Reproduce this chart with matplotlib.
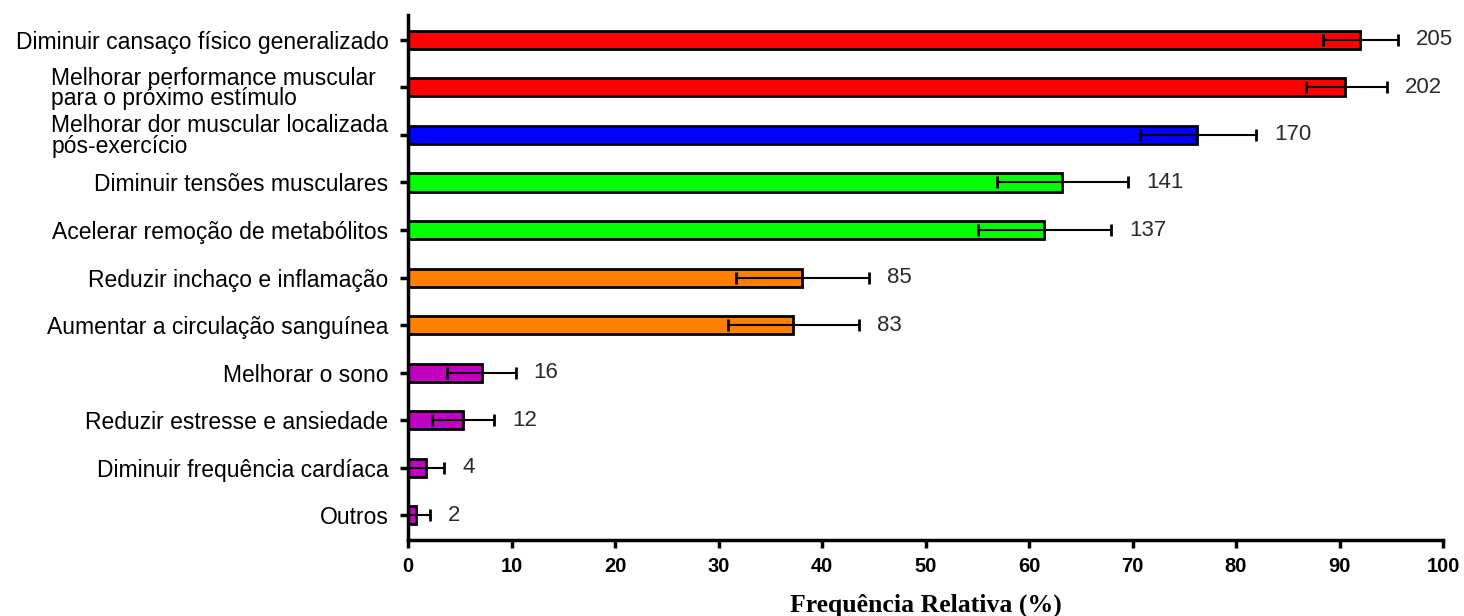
import matplotlib.pyplot as plt
import numpy as np

# dados
categorias = [
    "Diminuir cansaço físico generalizado",
    "Melhorar performance muscular  \npara o próximo estímulo",
    "Melhorar dor muscular localizada\npós-exercício",
    "Diminuir tensões musculares",
    "Acelerar remoção de metabólitos",
    "Reduzir inchaço e inflamação",
    "Aumentar a circulação sanguínea",
    "Melhorar o sono",
    "Reduzir estresse e ansiedade",
    "Diminuir frequência cardíaca",
    "Outros",
]
freq = [92.0, 90.5, 76.2, 63.2, 61.4, 38.1, 37.2, 7.1, 5.3, 1.7, 0.8]
ic_inf = [88.4, 86.8, 70.7, 56.9, 55.1, 31.7, 30.9, 3.8, 2.3, 0.0, 0.0]
ic_sup = [95.6, 94.6, 81.9, 69.6, 67.9, 44.5, 43.6, 10.4, 8.3, 3.5, 2.1]
contagem = [205, 202, 170, 141, 137, 85, 83, 16, 12, 4, 2]
cores = ['#FF0000', '#FF0000', '#0000FF', '#00FF00', '#00FF00',
         '#FF8000', '#FF8000', '#C000C0', '#C000C0', '#C000C0', '#C000C0']

fig = plt.figure(figsize=(14.64, 6.16), dpi=100)
ax = fig.add_axes([0.2787, 0.1234, 0.707, 0.852])

y = np.arange(len(categorias))
freq_arr = np.array(freq)
erro = [freq_arr - np.array(ic_inf), np.array(ic_sup) - freq_arr]

ax.barh(y, freq, height=0.38, color=cores, edgecolor='black', linewidth=2, zorder=2)
ax.errorbar(freq, y, xerr=erro, fmt='none', ecolor='black', elinewidth=1.5,
            capsize=4, capthick=2, zorder=3)

# numero absoluto ao lado de cada barra
for i, n in enumerate(contagem):
    ax.annotate(str(n), (ic_sup[i], y[i]), xytext=(13, 0), textcoords='offset points',
                va='center', ha='left', fontsize=16, color='#2a2a2a', family='Liberation Sans')

ax.set_yticks(y)
ax.set_yticklabels(categorias, fontsize=16.5, family='Liberation Sans', linespacing=0.85)
for lbl in ax.get_yticklabels():
    lbl.set_multialignment('left')
ax.set_ylim(10.52, -0.52)

ax.set_xlim(0, 100)
ax.set_xticks(np.arange(0, 101, 10))
ax.set_xticklabels([str(v) for v in range(0, 101, 10)], fontsize=14.5, fontweight='bold',
                   family='Liberation Sans')
ax.set_xlabel("Frequência Relativa (%)", fontsize=18.5, fontweight='bold',
              family='Liberation Serif', va='center')
ax.xaxis.set_label_coords(0.5, -0.124)

for s in ['top', 'right']:
    ax.spines[s].set_visible(False)
for s in ['left', 'bottom']:
    ax.spines[s].set_linewidth(2.5)
ax.tick_params(axis='both', width=2.5, length=6)
ax.tick_params(axis='y', pad=8)
ax.tick_params(axis='x', pad=6)

fig.savefig('out.png', dpi=100)
